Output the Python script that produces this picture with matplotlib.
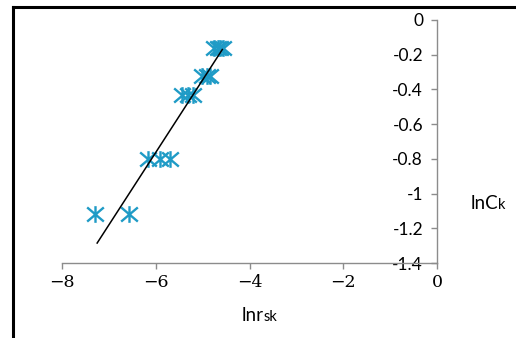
import matplotlib
matplotlib.use("Agg")
import matplotlib.pyplot as plt
from matplotlib.lines import Line2D
from matplotlib.path import Path
from matplotlib.ticker import FuncFormatter

plt.rcParams["font.family"] = "DejaVu Serif"

# ln r_sk (x) and ln C_k (y)
ln_rsk = [-7.29, -6.57,
          -6.16, -5.91, -5.70,
          -5.44, -5.31, -5.20,
          -5.01, -4.90, -4.84,
          -4.75, -4.68, -4.62, -4.57]
ln_ck = [-1.12, -1.12,
         -0.80, -0.80, -0.80,
         -0.43, -0.43, -0.43,
         -0.32, -0.32, -0.32,
         -0.16, -0.16, -0.16, -0.16]

# linear trend line end points
trend_x = [-7.25, -4.58]
trend_y = [-1.285, -0.17]

x_ticks = [-8, -6, -4, -2, 0]
y_ticks = [0, -0.2, -0.4, -0.6, -0.8, -1, -1.2, -1.4]

marker_color = "#1f9bc6"
axis_color = "#8c8c8c"

# Excel-style star: an X with a vertical bar
star = Path([(-1, -0.85), (1, 0.85), (-1, 0.85), (1, -0.85), (0, -1), (0, 1)],
            [Path.MOVETO, Path.LINETO, Path.MOVETO, Path.LINETO,
             Path.MOVETO, Path.LINETO])

fig = plt.figure(figsize=(5.16, 3.38), dpi=100)
ax = fig.add_axes([62 / 516, 75 / 338, 375 / 516, 243 / 338])

ax.plot(ln_rsk, ln_ck, linestyle="none", marker=star, markersize=12,
        markeredgewidth=1.7, markeredgecolor=marker_color,
        markerfacecolor="none", clip_on=False)
ax.plot(trend_x, trend_y, color="black", linewidth=1.1)

ax.set_xlim(-8, 0)
ax.set_ylim(-1.4, 0)
ax.set_xticks(x_ticks)
ax.set_yticks(y_ticks)

for side in ("top", "right"):
    ax.spines[side].set_visible(False)
ax.spines["left"].set_position(("data", 0))
for side in ("left", "bottom"):
    ax.spines[side].set_color(axis_color)
    ax.spines[side].set_linewidth(1.0)

ax.tick_params(axis="both", direction="out", length=4, width=1.0,
               color=axis_color)
ax.tick_params(axis="x", labelsize=12.5, pad=4)
ax.tick_params(axis="y", labelsize=12.5, pad=6, labelfontfamily="Lato")
ax.xaxis.set_major_formatter(FuncFormatter(lambda v, p: "%g" % v if v == 0 else "\u2212%g" % -v))
ax.yaxis.set_major_formatter(FuncFormatter(lambda v, p: "%g" % v))

# axis titles with the small index letters
fig.text(264 / 516, 1 - 321 / 338, "lnr", ha="right", va="baseline",
         fontsize=13.5, family="Lato")
fig.text(264 / 516, 1 - 321 / 338, "sk", ha="left", va="baseline",
         fontsize=10.5, family="Lato")
fig.text(498 / 516, 1 - 209 / 338, "lnC", ha="right", va="baseline",
         fontsize=13.5, family="Lato")
fig.text(498 / 516, 1 - 209 / 338, "k", ha="left", va="baseline",
         fontsize=10.5, family="Lato")

# frame lines at the top and left of the picture
fig.add_artist(Line2D([13 / 516, 13 / 516], [0, 1 - 7 / 338],
                      transform=fig.transFigure, color="black", linewidth=2.2))
fig.add_artist(Line2D([13 / 516, 1], [1 - 7 / 338, 1 - 7 / 338],
                      transform=fig.transFigure, color="black", linewidth=2.2))

fig.savefig("out.png", dpi=100)
